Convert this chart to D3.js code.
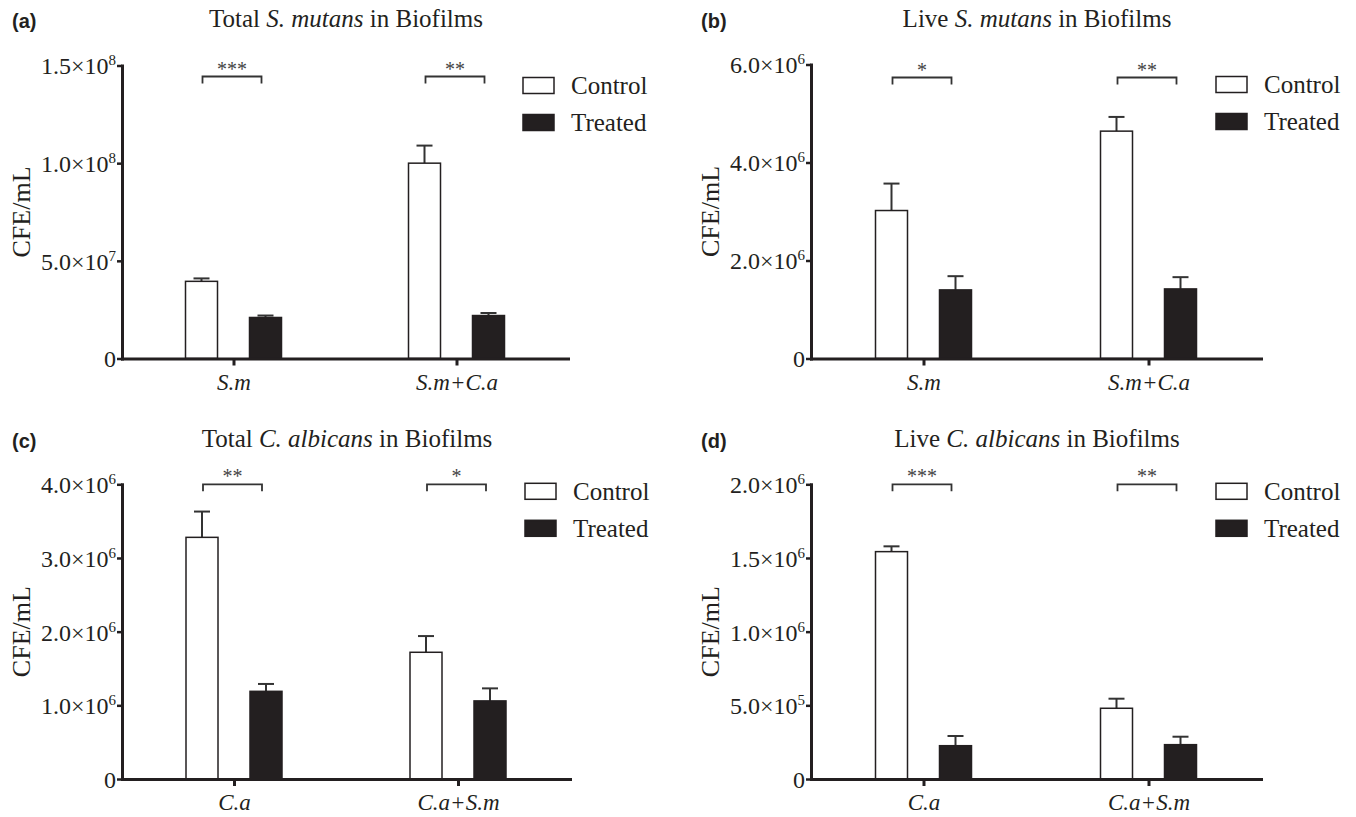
<!DOCTYPE html>
<html>
<head>
<meta charset="utf-8">
<script src="https://cdn.jsdelivr.net/npm/d3@7"></script>
<style>
  body { margin: 0; background: #fff; }
  svg { display: block; font-family: "Liberation Serif", "Times New Roman", serif; }
</style>
</head>
<body>
<div id="chart"></div>
<script>
// 分组与系列
const groupsSm = ['S.m', 'S.m+C.a'];
const groupsCa = ['C.a', 'C.a+S.m'];
const seriesNames = ['Control', 'Treated'];

// (a) Total S. mutans
const totalSmControl = [3.95e7, 1.0e8];
const totalSmControlErr = [1.5e6, 9.0e6];
const totalSmTreated = [2.1e7, 2.2e7];
const totalSmTreatedErr = [1.0e6, 1.3e6];
const totalSmStars = ['***', '**'];
const totalSmTicks = [0, 5e7, 1e8, 1.5e8];
const totalSmTickLabels = [['0', ''], ['5.0×10', '7'], ['1.0×10', '8'], ['1.5×10', '8']];

// (b) Live S. mutans
const liveSmControl = [3.02e6, 4.64e6];
const liveSmControlErr = [0.55e6, 0.29e6];
const liveSmTreated = [1.40e6, 1.42e6];
const liveSmTreatedErr = [0.28e6, 0.24e6];
const liveSmStars = ['*', '**'];
const liveSmTicks = [0, 2e6, 4e6, 6e6];
const liveSmTickLabels = [['0', ''], ['2.0×10', '6'], ['4.0×10', '6'], ['6.0×10', '6']];

// (c) Total C. albicans
const totalCaControl = [3.28e6, 1.72e6];
const totalCaControlErr = [0.35e6, 0.22e6];
const totalCaTreated = [1.19e6, 1.06e6];
const totalCaTreatedErr = [0.10e6, 0.17e6];
const totalCaStars = ['**', '*'];
const totalCaTicks = [0, 1e6, 2e6, 3e6, 4e6];
const totalCaTickLabels = [['0', ''], ['1.0×10', '6'], ['2.0×10', '6'], ['3.0×10', '6'], ['4.0×10', '6']];

// (d) Live C. albicans
const liveCaControl = [1.543e6, 4.80e5];
const liveCaControlErr = [0.036e6, 0.065e6];
const liveCaTreated = [2.26e5, 2.33e5];
const liveCaTreatedErr = [0.066e6, 0.054e6];
const liveCaStars = ['***', '**'];
const liveCaTicks = [0, 5e5, 1e6, 1.5e6, 2e6];
const liveCaTickLabels = [['0', ''], ['5.0×10', '5'], ['1.0×10', '6'], ['1.5×10', '6'], ['2.0×10', '6']];

const INK = '#231f20';

const panels = [
    { tag: '(a)', title: ['Total ', 'S. mutans', ' in Biofilms'], groups: groupsSm,
      control: totalSmControl, controlErr: totalSmControlErr, treated: totalSmTreated, treatedErr: totalSmTreatedErr,
      stars: totalSmStars, ticks: totalSmTicks, tickLabels: totalSmTickLabels,
      x0: 122, x1: 568, y0: 65.5, y1: 358.5, tagY: 28, titleY: 27, bracketDy: 11, legendDy: 12 },
    { tag: '(b)', title: ['Live ', 'S. mutans', ' in Biofilms'], groups: groupsSm,
      control: liveSmControl, controlErr: liveSmControlErr, treated: liveSmTreated, treatedErr: liveSmTreatedErr,
      stars: liveSmStars, ticks: liveSmTicks, tickLabels: liveSmTickLabels,
      x0: 811, x1: 1261, y0: 64.5, y1: 358.5, tagY: 28, titleY: 27, bracketDy: 13, legendDy: 12 },
    { tag: '(c)', title: ['Total ', 'C. albicans', ' in Biofilms'], groups: groupsCa,
      control: totalCaControl, controlErr: totalCaControlErr, treated: totalCaTreated, treatedErr: totalCaTreatedErr,
      stars: totalCaStars, ticks: totalCaTicks, tickLabels: totalCaTickLabels,
      x0: 122, x1: 570, y0: 484.3, y1: 779, tagY: 448, titleY: 447, bracketDy: 0, legendDy: -1 },
    { tag: '(d)', title: ['Live ', 'C. albicans', ' in Biofilms'], groups: groupsCa,
      control: liveCaControl, controlErr: liveCaControlErr, treated: liveCaTreated, treatedErr: liveCaTreatedErr,
      stars: liveCaStars, ticks: liveCaTicks, tickLabels: liveCaTickLabels,
      x0: 811, x1: 1261, y0: 484.3, y1: 779, tagY: 448, titleY: 447, bracketDy: 0, legendDy: -1 }
];

const svg = d3.select('#chart')
    .append('svg')
    .attr('width', 1356)
    .attr('height', 817)
    .attr('viewBox', [0, 0, 1356, 817]);

/**
 * 绘制单个面板
 */
function drawPanel(p) {
    const g = svg.append('g').attr('class', 'panel');

    const x = d3.scalePoint().domain(p.groups).range([p.x0, p.x1]).padding(0.5);
    const sub = d3.scaleBand().domain(seriesNames).range([-48, 48]).paddingInner(0.5);
    const y = d3.scaleLinear().domain([0, p.ticks[p.ticks.length - 1]]).range([p.y1, p.y0]);

    const rows = p.groups.flatMap((grp, i) => [
        { grp, s: 'Control', v: p.control[i], e: p.controlErr[i] },
        { grp, s: 'Treated', v: p.treated[i], e: p.treatedErr[i] }
    ]);
    const cx = d => x(d.grp) + sub(d.s) + sub.bandwidth() / 2;

    // 误差线
    const err = g.append('g').attr('stroke', '#333').attr('stroke-width', 2);
    err.selectAll('line.v').data(rows).join('line')
        .attr('class', 'v')
        .attr('x1', cx).attr('x2', cx)
        .attr('y1', d => y(d.v)).attr('y2', d => y(d.v + d.e));
    err.selectAll('line.cap').data(rows).join('line')
        .attr('class', 'cap')
        .attr('x1', d => cx(d) - 8).attr('x2', d => cx(d) + 8)
        .attr('y1', d => y(d.v + d.e)).attr('y2', d => y(d.v + d.e));

    // 柱子
    g.append('g').selectAll('rect').data(rows).join('rect')
        .attr('x', d => x(d.grp) + sub(d.s))
        .attr('width', sub.bandwidth())
        .attr('y', d => y(d.v))
        .attr('height', d => y(0) - y(d.v))
        .attr('fill', d => d.s === 'Control' ? '#fff' : INK)
        .attr('stroke', INK)
        .attr('stroke-width', 1.5);

    // Y 轴
    const yAxis = g.append('g')
        .attr('transform', `translate(${p.x0},0)`)
        .style('color', INK)
        .call(d3.axisLeft(y).tickValues(p.ticks).tickSize(5).tickSizeOuter(0).tickPadding(1));
    yAxis.select('.domain').attr('stroke-width', 3).attr('stroke-linecap', 'square');
    yAxis.selectAll('.tick line').attr('stroke-width', 2.5);
    yAxis.selectAll('.tick text')
        .attr('font-family', '"Liberation Serif", serif')
        .attr('font-size', 24)
        .attr('fill', INK)
        .attr('dy', '0.35em')
        .each(function(d, i) {
            const t = d3.select(this).text(null);
            const lab = p.tickLabels[i];
            t.append('tspan').text(lab[0]);
            if (lab[1]) t.append('tspan').attr('font-size', 15).attr('dy', -9).text(lab[1]);
        });

    // X 轴
    const xAxis = g.append('g')
        .attr('transform', `translate(0,${p.y1})`)
        .style('color', INK)
        .call(d3.axisBottom(x).tickSize(7).tickSizeOuter(0));
    xAxis.select('.domain').attr('stroke-width', 3).attr('stroke-linecap', 'square');
    xAxis.selectAll('.tick line').attr('stroke-width', 3);
    xAxis.selectAll('.tick text')
        .attr('font-family', '"Liberation Serif", serif')
        .attr('font-style', 'italic')
        .attr('font-size', 23)
        .attr('fill', INK)
        .attr('y', 31)
        .attr('dy', 0);

    // Y 轴标题
    g.append('text')
        .attr('transform', `translate(${p.x0 - 92},${(p.y0 + p.y1) / 2}) rotate(-90)`)
        .attr('text-anchor', 'middle')
        .attr('font-size', 26)
        .attr('fill', INK)
        .text('CFE/mL');

    // 显著性括号
    const by = p.y0 + p.bracketDy;
    const sig = g.append('g');
    p.groups.forEach((grp, i) => {
        const l = x(grp) - 31, r = x(grp) + 28;
        sig.append('path')
            .attr('d', `M${l},${by + 7}V${by}H${r}V${by + 7}`)
            .attr('fill', 'none')
            .attr('stroke', '#333')
            .attr('stroke-width', 1.8);
        sig.append('text')
            .attr('x', (l + r) / 2)
            .attr('y', by - 1)
            .attr('text-anchor', 'middle')
            .attr('font-size', 20)
            .attr('fill', '#444')
            .text(p.stars[i]);
    });

    // 图例
    const lg = g.append('g');
    seriesNames.forEach((s, i) => {
        const ly = p.y0 + p.legendDy + i * 37;
        lg.append('rect')
            .attr('x', p.x1 - 45).attr('y', ly)
            .attr('width', 31).attr('height', 16)
            .attr('fill', s === 'Control' ? '#fff' : INK)
            .attr('stroke', INK).attr('stroke-width', 1.5);
        lg.append('text')
            .attr('x', p.x1 + 3).attr('y', ly + 8)
            .attr('dy', '0.35em')
            .attr('font-size', 25)
            .attr('fill', INK)
            .text(s);
    });

    // 标题
    const title = g.append('text')
        .attr('x', (p.x0 + p.x1) / 2 + 1)
        .attr('y', p.titleY)
        .attr('text-anchor', 'middle')
        .attr('font-size', 25)
        .attr('fill', INK);
    title.append('tspan').text(p.title[0]);
    title.append('tspan').attr('font-style', 'italic').text(p.title[1]);
    title.append('tspan').text(p.title[2]);

    // 面板编号
    g.append('text')
        .attr('x', p.x0 - 110)
        .attr('y', p.tagY)
        .attr('font-family', '"Liberation Sans", Arial, sans-serif')
        .attr('font-weight', 'bold')
        .attr('font-size', 20)
        .attr('fill', INK)
        .text(p.tag);
}

panels.forEach(drawPanel);
</script>
</body>
</html>
